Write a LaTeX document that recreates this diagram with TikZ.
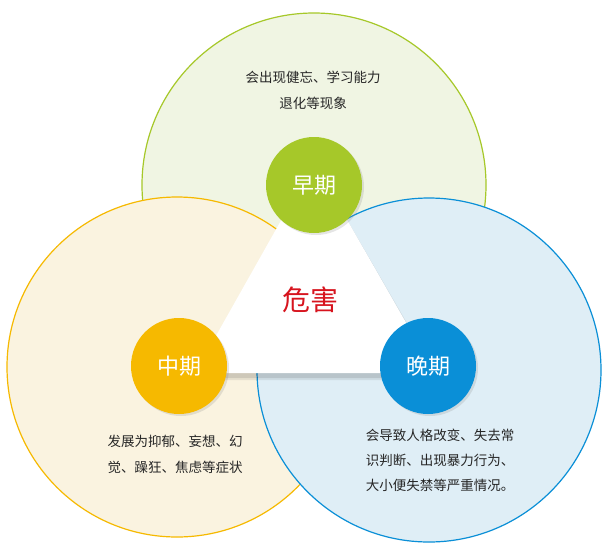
\documentclass[tikz,border=0pt]{standalone}
\usepackage{fontspec}
\setmainfont{Noto Sans CJK SC}
\usetikzlibrary{shadows}
\definecolor{gA}{HTML}{A6C829}
\definecolor{yA}{HTML}{F6B900}
\definecolor{bA}{HTML}{0A8FD7}
\definecolor{gF}{HTML}{F0F5E3}
\definecolor{yF}{HTML}{FAF3E0}
\definecolor{bF}{HTML}{DFEEF6}
\definecolor{rA}{HTML}{D7141E}
\tikzset{
  big/.style={line width=1.2pt},
  small/.style={circle,minimum size=96pt,inner sep=0pt,text=white,font=\fontsize{22}{22}\selectfont,drop shadow={opacity=0.2,shadow xshift=2pt,shadow yshift=-2pt}},
  txt/.style={font=\fontsize{13.5}{26}\selectfont,text=black!85,align=center}
}
\begin{document}
\begin{tikzpicture}[x=1pt,y=-1pt]
\useasboundingbox (0,0) rectangle (607,555);
\fill[white] (0,0) rectangle (607,555);
\filldraw[big,draw=gA,fill=gF] (314,185) circle (172);
\filldraw[big,draw=yA,fill=yF] (177,367) circle (170);
\filldraw[big,draw=bA,fill=bF] (429,370) circle (172);
\fill[black,opacity=0.10] (316,166) -- (196,378) -- (438,378) -- cycle;
\fill[black,opacity=0.08] (317,168) -- (196,380) -- (440,380) -- cycle;
\fill[white] (314,162) -- (195,373) -- (435,373) -- cycle;
\node[small,fill=gA] (early) at (314,185) {早期};
\node[small,fill=yA] (mid) at (179,366) {中期};
\node[small,fill=bA] (late) at (428,366) {晚期};
\node[text=rA,font=\fontsize{28}{28}\selectfont] (harm) at (310,300) {危害};
\node[txt] (t1) at (313,90) {会出现健忘、学习能力\\退化等现象};
\node[txt] (t2) at (175,454) {发展为抑郁、妄想、幻\\觉、躁狂、焦虑等症状};
\node[txt,font=\fontsize{13.5}{25}\selectfont] (t3) at (440,460) {会导致人格改变、失去常\\识判断、出现暴力行为、\\大小便失禁等严重情况。};
\end{tikzpicture}
\end{document}
